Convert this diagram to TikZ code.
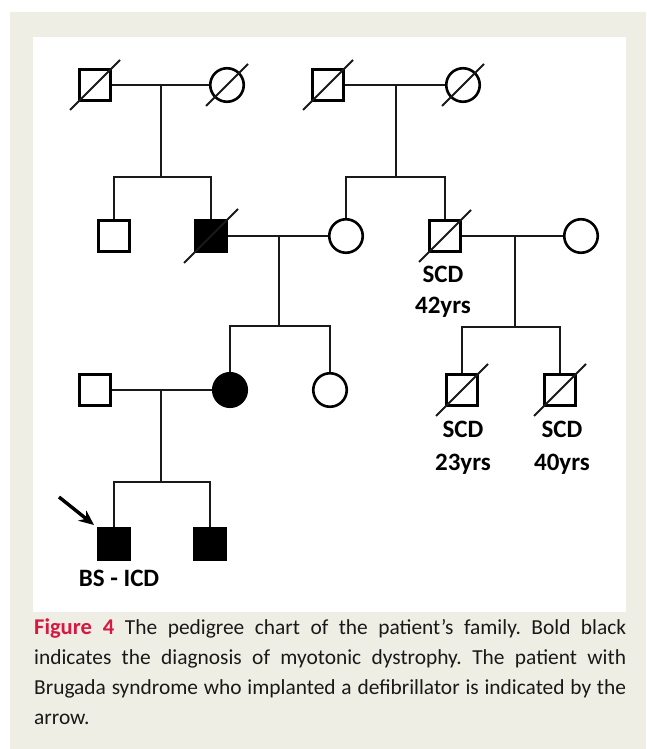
\documentclass[tikz,border=0pt]{standalone}
\usepackage{fontspec}
\setmainfont{Carlito}
\usetikzlibrary{arrows.meta}
\definecolor{panel}{RGB}{239,238,228}
\definecolor{figred}{RGB}{214,24,66}
\definecolor{ink}{RGB}{25,25,25}
\newcommand\deadmark[2]{\draw[slash] ([shift={(-#2,#2)}]#1.center) -- ([shift={(#2,-#2)}]#1.center);}
\begin{document}
\begin{tikzpicture}[x=1pt,y=-1pt,
  sym/.style={draw=black, line width=2.6pt, inner sep=0pt, fill=white},
  male/.style={sym, rectangle, minimum size=31.5pt},
  female/.style={sym, circle, minimum size=33.5pt},
  aff/.style={fill=black},
  conn/.style={draw=ink, line width=1.8pt},
  slash/.style={draw=ink, line width=2pt},
  lab/.style={font=\fontsize{25}{25}\selectfont\bfseries, text=black, inner sep=0pt, anchor=base},
]
\useasboundingbox (0,0) rectangle (646,749);
\fill[panel] (10,12) rectangle (646,749);
\fill[white] (33,37) rectangle (626,612);

% generation I
\node[male] (I1) at (95,85) {};
\node[female] (I2) at (227,85) {};
\node[male] (I3) at (328,85) {};
\node[female] (I4) at (463,85) {};
% generation II
\node[male] (II1) at (114,236) {};
\node[male,aff] (II2) at (211,236) {};
\node[female] (II3) at (346,236) {};
\node[male] (II4) at (445,236) {};
\node[female] (II5) at (581,236) {};
% generation III
\node[male] (III1) at (95,390) {};
\node[female,aff] (III2) at (230,390) {};
\node[female] (III3) at (330,390) {};
\node[male] (III4) at (462,390) {};
\node[male] (III5) at (560,390) {};
% generation IV
\node[male,aff] (IV1) at (114,544) {};
\node[male,aff] (IV2) at (210,544) {};

\coordinate (m1) at (161,85);  \coordinate (s1) at (161,177);
\coordinate (m2) at (396,85);  \coordinate (s2) at (396,177);
\coordinate (m3) at (279,236); \coordinate (s3) at (279,326);
\coordinate (m4) at (515,236); \coordinate (s4) at (515,327);
\coordinate (m5) at (161,390); \coordinate (s5) at (161,482);

\draw[conn] (I1) -- (I2);
\draw[conn] (I3) -- (I4);
\draw[conn] (II2) -- (II3);
\draw[conn] (II4) -- (II5);
\draw[conn] (III1) -- (III2);
\draw[conn] (m1) -- (s1);
\draw[conn] (m2) -- (s2);
\draw[conn] (m3) -- (s3);
\draw[conn] (m4) -- (s4);
\draw[conn] (m5) -- (s5);
\draw[conn] (II1.north) |- (s1) -| (II2.north);
\draw[conn] (II3.north) |- (s2) -| (II4.north);
\draw[conn] (III2.north) |- (s3) -| (III3.north);
\draw[conn] (III4.north) |- (s4) -| (III5.north);
\draw[conn] (IV1.north) |- (s5) -| (IV2.north);

\deadmark{I1}{25}
\deadmark{I2}{21}
\deadmark{I3}{25}
\deadmark{I4}{21}
\deadmark{II2}{27}
\deadmark{II4}{26}
\deadmark{III4}{26}
\deadmark{III5}{26}

\node[lab] (t1) at (443,282) {SCD};
\node[lab] (t2) at (443,313) {42yrs};
\node[lab] (t3) at (463,437) {SCD};
\node[lab] (t4) at (463,470) {23yrs};
\node[lab] (t5) at (562,437) {SCD};
\node[lab] (t6) at (562,470) {40yrs};
\node[lab] (t7) at (119,586) {BS - ICD};

\coordinate (a1) at (59,497);
\coordinate (a2) at (94,525);
\draw[-{Stealth[length=15pt,width=13pt]}, line width=3.4pt, draw=black, fill=black] (a1) -- (a2);

\node[anchor=north west, inner sep=0pt, text width=592pt, align=justify,
  font=\fontsize{21.4}{30}\selectfont\frenchspacing, text=ink] (cap) at (34,619)
  {{\color{figred}\fontsize{22.5}{30}\selectfont\bfseries Figure 4}\enspace The pedigree chart of the patient’s family. Bold black\linebreak
   indicates the diagnosis of myotonic dystrophy. The patient with\linebreak
   Brugada syndrome who implanted a defibrillator is indicated by the\linebreak
   arrow.};
\end{tikzpicture}
\end{document}
